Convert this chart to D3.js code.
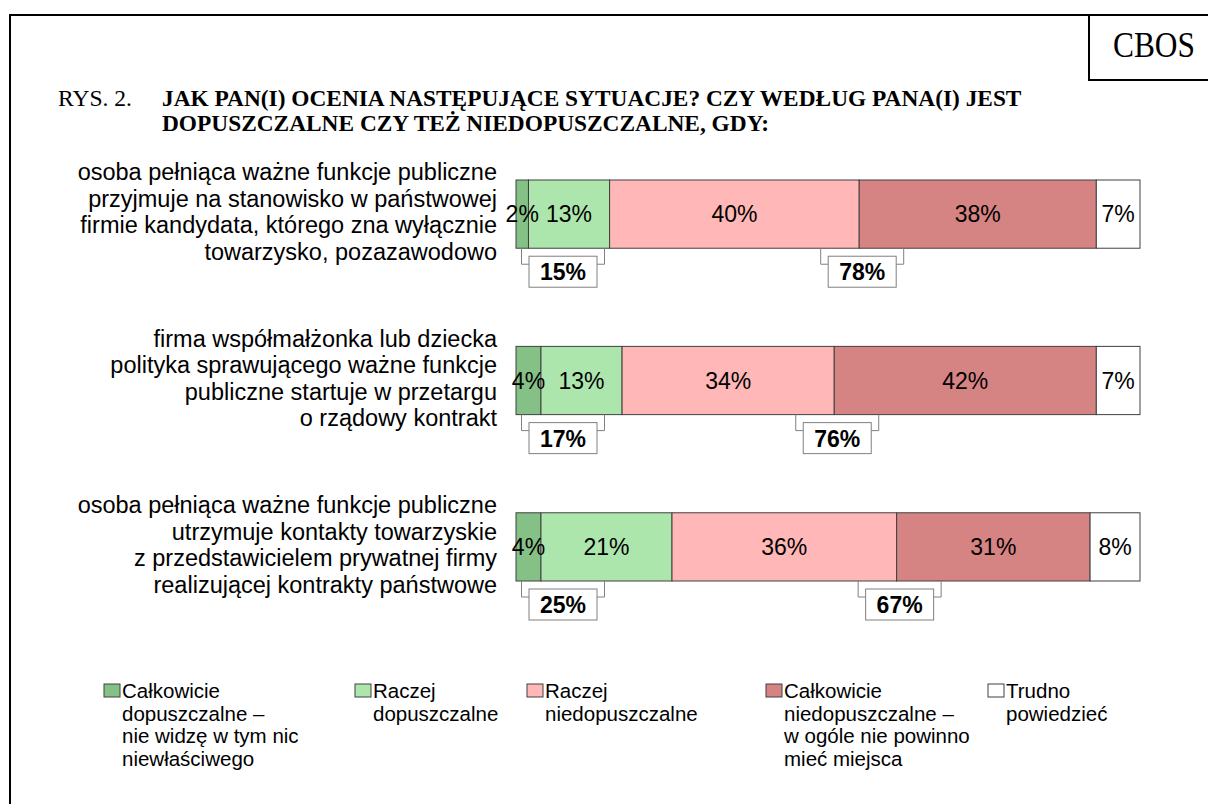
<!DOCTYPE html>
<html>
<head>
<meta charset="utf-8">
<script src="https://cdnjs.cloudflare.com/ajax/libs/d3/7.8.5/d3.min.js"></script>
<style>
  body { margin: 0; background: #fff; }
  svg { display: block; }
</style>
</head>
<body>
<script>
// pytania (etykiety wierszy, podzielone na linie)
const categories = [
  ["osoba pełniąca ważne funkcje publiczne", "przyjmuje na stanowisko w państwowej", "firmie kandydata, którego zna wyłącznie", "towarzysko, pozazawodowo"],
  ["firma współmałżonka lub dziecka", "polityka sprawującego ważne funkcje", "publiczne startuje w przetargu", "o rządowy kontrakt"],
  ["osoba pełniąca ważne funkcje publiczne", "utrzymuje kontakty towarzyskie", "z przedstawicielem prywatnej firmy", "realizującej kontrakty państwowe"]
];

// odpowiedzi w %
const calkowicieDop = [2, 4, 4];
const raczejDop = [13, 13, 21];
const raczejNiedop = [40, 34, 36];
const calkowicieNiedop = [38, 42, 31];
const trudno = [7, 7, 8];

// sumy w ramkach pod słupkami
const sumaDop = [15, 17, 25];
const sumaNiedop = [78, 76, 67];

const legendLabels = [
  ["Całkowicie", "dopuszczalne –", "nie widzę w tym nic", "niewłaściwego"],
  ["Raczej", "dopuszczalne"],
  ["Raczej", "niedopuszczalne"],
  ["Całkowicie", "niedopuszczalne –", "w ogóle nie powinno", "mieć miejsca"],
  ["Trudno", "powiedzieć"]
];
const colors = ["#85c186", "#ade6ad", "#ffb7b7", "#d68383", "#ffffff"];

const width = 1208, height = 804;
const svg = d3.select("body").append("svg").attr("width", width).attr("height", height);

const serif = "Liberation Serif, Times New Roman, serif";
const sans = "Liberation Sans, Arial, sans-serif";

// ramka
svg.append("path")
  .attr("d", `M10,804 V15 H1208 M1089,15 V80 H1208`)
  .attr("fill", "none").attr("stroke", "#000").attr("stroke-width", 2);

// tekst szeryfowy lekko zwężony (jak w oryginale)
function narrowText(x, yPos, str, size, bold, targetW, anchor) {
  const g = svg.append("g");
  const t = g.append("text").attr("font-family", serif).attr("font-size", size)
    .attr("font-weight", bold ? "bold" : "normal").text(str);
  const w = t.node().getComputedTextLength();
  const k = targetW ? targetW / w : 1;
  const x0 = anchor === "middle" ? x - targetW / 2 : x;
  g.attr("transform", `translate(${x0},${yPos}) scale(${k},1)`);
  return k;
}

narrowText(1154, 57, "CBOS", 35, false, 82, "middle");

// tytuł
narrowText(58, 106, "RYS. 2.", 24, false, 74);
const k1 = narrowText(162, 106, "JAK PAN(I) OCENIA NASTĘPUJĄCE SYTUACJE? CZY WEDŁUG PANA(I) JEST", 24, true, 860);
svg.append("text").attr("font-family", serif).attr("font-size", 24).attr("font-weight", "bold")
  .attr("transform", `translate(162,131) scale(${k1},1)`)
  .text("DOPUSZCZALNE CZY TEŻ NIEDOPUSZCZALNE, GDY:");

// skale
const x = d3.scaleLinear().domain([0, 100]).range([516, 1140]);
const y = d3.scaleBand().domain(d3.range(categories.length)).range([180, 581]).paddingInner(0.59).paddingOuter(0);

const series = [calkowicieDop, raczejDop, raczejNiedop, calkowicieNiedop, trudno];
const rows = categories.map((c, i) => {
  let acc = 0;
  return series.map((s, k) => {
    const seg = { row: i, k: k, x0: acc, x1: acc + s[i], v: s[i] };
    acc += s[i];
    return seg;
  });
});

// etykiety pytań
const labelG = svg.append("g");
categories.forEach((lines, i) => {
  const cy = y(i) + y.bandwidth() / 2;
  const lh = 26.5;
  const txt = labelG.append("text").attr("text-anchor", "end")
    .attr("font-family", sans).attr("font-size", 23.5).attr("fill", "#000");
  lines.forEach((l, j) => {
    txt.append("tspan").attr("x", 497)
      .attr("y", cy + (j - (lines.length - 1) / 2) * lh + 6)
      .text(l);
  });
});

// słupki
const barG = svg.append("g");
rows.forEach(segs => {
  barG.selectAll(null).data(segs).enter().append("rect")
    .attr("x", d => x(d.x0))
    .attr("y", d => y(d.row))
    .attr("width", d => x(d.x1) - x(d.x0))
    .attr("height", y.bandwidth())
    .attr("fill", d => colors[d.k])
    .attr("stroke", "#404040").attr("stroke-width", 1);
  barG.selectAll(null).data(segs).enter().append("text")
    .attr("x", d => (x(d.x0) + x(d.x1)) / 2)
    .attr("y", d => y(d.row) + y.bandwidth() / 2 + 8)
    .attr("text-anchor", "middle")
    .attr("font-family", sans).attr("font-size", 23)
    .text(d => d.v + "%");
});

// klamry z sumami
function bracket(cx, top, value) {
  const w = 83, bw = 68, g = svg.append("g");
  g.append("path")
    .attr("d", `M${cx - w / 2},${top} V${top + 16} H${cx + w / 2} V${top}`)
    .attr("fill", "none").attr("stroke", "#808080").attr("stroke-width", 1);
  g.append("rect").attr("x", cx - bw / 2).attr("y", top + 8).attr("width", bw).attr("height", 31)
    .attr("fill", "#fff").attr("stroke", "#808080").attr("stroke-width", 1);
  g.append("text").attr("x", cx).attr("y", top + 32).attr("text-anchor", "middle")
    .attr("font-family", sans).attr("font-size", 23).attr("font-weight", "bold")
    .text(value + "%");
}
categories.forEach((c, i) => {
  const bottom = y(i) + y.bandwidth();
  bracket(x(0) + 47, bottom, sumaDop[i]);
  bracket(x(calkowicieDop[i] + raczejDop[i] + raczejNiedop[i]) + 3, bottom, sumaNiedop[i]);
});

// legenda
const legendX = [104, 355, 527, 766, 988];
const legG = svg.append("g");
legendLabels.forEach((lines, k) => {
  const lx = legendX[k];
  legG.append("rect").attr("x", lx).attr("y", 684).attr("width", 16).attr("height", 13)
    .attr("fill", colors[k]).attr("stroke", "#404040").attr("stroke-width", 1);
  const txt = legG.append("text").attr("font-family", sans).attr("font-size", 20.5);
  lines.forEach((l, j) => {
    txt.append("tspan").attr("x", lx + 18).attr("y", 698 + j * 22.5).text(l);
  });
});
</script>
</body>
</html>
